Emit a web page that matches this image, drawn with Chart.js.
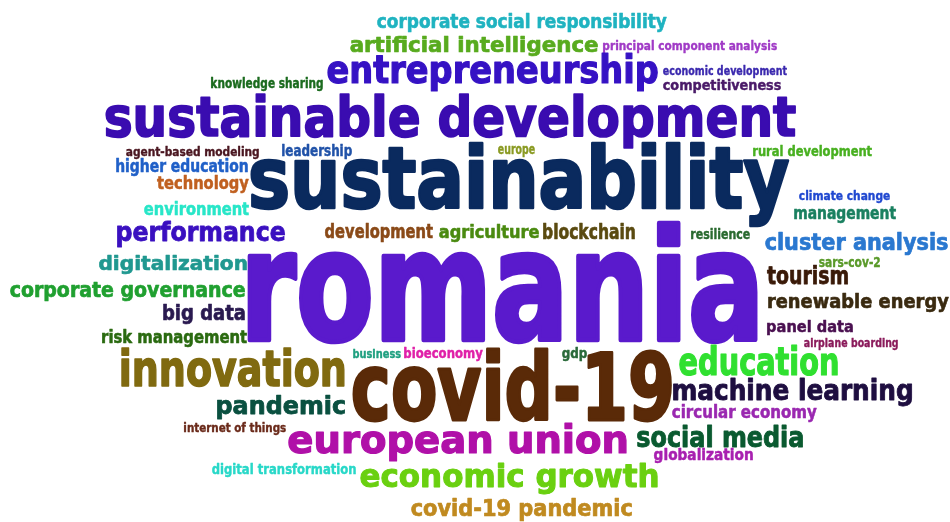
<!DOCTYPE html>
<html lang="en">
<head>
<meta charset="UTF-8">
<title>Keyword cloud</title>
<script src="https://cdn.jsdelivr.net/npm/chart.js"></script>
<style>
  html, body { margin: 0; padding: 0; background: #ffffff; }
  .wrap { position: relative; width: 950px; height: 522px; }
</style>
</head>
<body>
<div class="wrap"><canvas id="cloud"></canvas></div>
<script>
// Keywords shown in the cloud
const words = [
  'corporate social responsibility', 'artificial intelligence', 'principal component analysis',
  'knowledge sharing', 'entrepreneurship', 'economic development', 'competitiveness',
  'sustainable development', 'agent-based modeling', 'leadership', 'europe', 'rural development',
  'higher education', 'technology', 'sustainability', 'climate change', 'environment', 'management',
  'performance', 'development', 'agriculture', 'blockchain', 'resilience', 'cluster analysis',
  'romania', 'sars-cov-2', 'digitalization', 'tourism', 'corporate governance', 'renewable energy',
  'big data', 'panel data', 'risk management', 'airplane boarding', 'business', 'bioeconomy', 'gdp',
  'innovation', 'education', 'covid-19', 'machine learning', 'pandemic', 'circular economy',
  'internet of things', 'european union', 'social media', 'globalization', 'digital transformation',
  'economic growth', 'covid-19 pandemic'
];

// Word colours
const colors = [
  '#1fb3c0', '#58ab1e', '#a03ac6',
  '#1b6b1e', '#3512c4', '#3a28ae', '#4a1a68',
  '#3a0cb0', '#4a1620', '#2052a8', '#8a9a22', '#48b020',
  '#2060c8', '#c06020', '#0a2a5e', '#2048d0', '#28e6c8', '#1a8060',
  '#3a10c0', '#8a4a18', '#4a8a10', '#5a4a10', '#2a6a30', '#2a78d0',
  '#5a1acc', '#5a9a2a', '#209890', '#3a1a08', '#20a030', '#3a2a10',
  '#2a1a50', '#4a1050', '#2a6a10', '#8a1a5a', '#20a080', '#e020a8', '#2a6a3a',
  '#806a10', '#30e030', '#5a2a08', '#1e0e40', '#0a5040', '#9a28b0',
  '#6a2a1a', '#b010a8', '#0a5a30', '#a820b0', '#28d8c8',
  '#6ad010', '#c08a20'
];

// Layout of the cloud: ink box of each word [left, top, right, bottom] in cloud units
const boxes = [
  [377, 13, 667, 33], [350, 35, 598, 57], [603, 40, 777, 53],
  [211, 77, 323, 91], [327, 53, 658, 92], [663, 66, 787, 78], [663, 79, 781, 93],
  [105, 93, 796, 148], [126, 146, 259, 159], [282, 144, 352, 159], [498, 146, 535, 157], [753, 145, 872, 159],
  [116, 159, 248, 176], [157, 176, 249, 193], [250, 142, 790, 228], [799, 190, 890, 203], [144, 201, 249, 215], [794, 207, 896, 223],
  [117, 220, 285, 247], [325, 223, 433, 242], [439, 224, 539, 242], [543, 223, 635, 240], [691, 228, 750, 239], [765, 232, 948, 255],
  [247, 222, 758, 344], [819, 256, 880, 267], [99, 255, 247, 275], [767, 265, 848, 285], [10, 282, 245, 302], [768, 293, 949, 312],
  [163, 303, 245, 325], [767, 320, 853, 335], [102, 329, 247, 347], [804, 338, 898, 350], [353, 348, 401, 358], [404, 347, 483, 361], [562, 347, 587, 361],
  [121, 347, 345, 387], [679, 345, 838, 376], [352, 348, 672, 423], [673, 378, 912, 407], [217, 395, 345, 420], [672, 405, 817, 422],
  [184, 422, 286, 435], [288, 423, 627, 462], [637, 425, 803, 448], [654, 448, 753, 464], [212, 462, 356, 477],
  [360, 462, 658, 495], [411, 498, 632, 521]
];

const points = words.map((w, i) => {
  const b = boxes[i];
  return { x: (b[0] + b[2]) / 2, y: (b[1] + b[3]) / 2, w: b[2] - b[0], h: b[3] - b[1] };
});

const FONT = 'bold 100px "DejaVu Sans Condensed", "Liberation Sans Narrow", "DejaVu Sans", sans-serif';
const HEAVY = 3; // extra stroke to get closer to the heavy display face

// draws each word stretched into its box, positioned through the chart scales
const wordPlugin = {
  id: 'wordCloud',
  afterDatasetsDraw(chart) {
    const ctx = chart.ctx;
    const xs = chart.scales.x;
    const ys = chart.scales.y;
    const ds = chart.data.datasets[0];
    ctx.save();
    ctx.font = FONT;
    ctx.textAlign = 'left';
    ctx.textBaseline = 'alphabetic';
    ctx.lineJoin = 'round';
    ds.data.forEach((p, i) => {
      const left = xs.getPixelForValue(p.x - p.w / 2);
      const right = xs.getPixelForValue(p.x + p.w / 2);
      const top = ys.getPixelForValue(p.y - p.h / 2);
      const bottom = ys.getPixelForValue(p.y + p.h / 2);
      const m = ctx.measureText(words[i]);
      const inkW = m.actualBoundingBoxLeft + m.actualBoundingBoxRight + HEAVY;
      const inkH = m.actualBoundingBoxAscent + m.actualBoundingBoxDescent + HEAVY;
      ctx.save();
      ctx.translate(Math.min(left, right), Math.min(top, bottom));
      ctx.scale(Math.abs(right - left) / inkW, Math.abs(bottom - top) / inkH);
      ctx.fillStyle = ds.wordColors[i];
      ctx.strokeStyle = ds.wordColors[i];
      ctx.lineWidth = HEAVY;
      const tx = m.actualBoundingBoxLeft + HEAVY / 2;
      const ty = m.actualBoundingBoxAscent + HEAVY / 2;
      ctx.fillText(words[i], tx, ty);
      ctx.strokeText(words[i], tx, ty);
      ctx.restore();
    });
    ctx.restore();
  }
};

new Chart(document.getElementById('cloud'), {
  type: 'scatter',
  data: {
    datasets: [{
      label: 'keywords',
      data: points,
      wordColors: colors,
      pointRadius: 0,
      pointHoverRadius: 0
    }]
  },
  options: {
    responsive: true,
    maintainAspectRatio: false,
    animation: false,
    devicePixelRatio: 1,
    layout: { padding: 0 },
    scales: {
      x: { type: 'linear', min: 0, max: 950, display: false },
      y: { type: 'linear', min: 0, max: 522, reverse: true, display: false }
    },
    plugins: {
      legend: { display: false },
      tooltip: { enabled: false }
    }
  },
  plugins: [wordPlugin]
});
</script>
</body>
</html>
